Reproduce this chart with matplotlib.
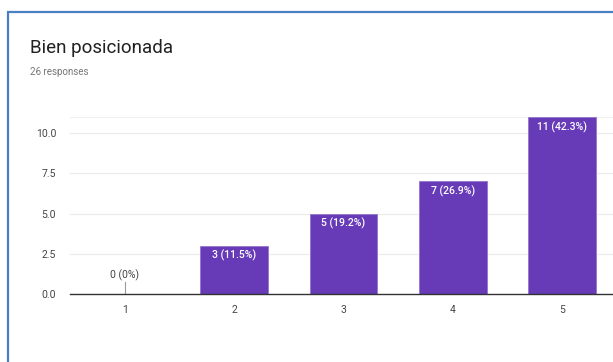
import matplotlib.pyplot as plt
import matplotlib.patches as mpatches

plt.rcParams['font.family'] = ['Roboto', 'DejaVu Sans']

title = 'Bien posicionada'
subtitle = '26 responses'
categories = ['1', '2', '3', '4', '5']
counts = [0, 3, 5, 7, 11]
pct_labels = ['0%', '11.5%', '19.2%', '26.9%', '42.3%']
yticks = [0.0, 2.5, 5.0, 7.5, 10.0]

bar_color = '#673ab7'

fig = plt.figure(figsize=(6.13, 3.62), dpi=100)

# card border (blue)
fig.patches.append(mpatches.Rectangle((8 / 613, -0.1), 1.2, 1 - 12 / 362 + 0.1,
                                      transform=fig.transFigure, fill=False,
                                      edgecolor='#4a7fc1', linewidth=1.6))

fig.text(30 / 613, 1 - 48 / 362, title, fontsize=13.5, color='#212121', va='center')
fig.text(30 / 613, 1 - 72 / 362, subtitle, fontsize=7, color='#757575', va='center')

ax = fig.add_axes([70 / 613, 1 - 294 / 362, 547 / 613, 177 / 362])
x = list(range(len(categories)))
ax.bar(x, counts, width=0.62, color=bar_color, edgecolor='#9575cd', linewidth=0.6, zorder=3)

for xi, c, p in zip(x, counts, pct_labels):
    lab = f'{c} ({p})'
    if c > 0:
        ax.annotate(lab, (xi, c), xytext=(0, -3), textcoords='offset points',
                    ha='center', va='top', color='white', fontsize=7.5,
                    fontweight='medium', zorder=4)
    else:
        ax.plot([xi, xi], [0, 0.75], color='#999999', linewidth=0.8, zorder=4)
        ax.annotate(lab, (xi, 0.75), xytext=(0, 1), textcoords='offset points',
                    ha='center', va='bottom', color='#444444', fontsize=7.5, zorder=4)

ax.set_xlim(-0.5, 4.5)
ax.set_ylim(0, 11)
ax.set_xticks(x)
ax.set_xticklabels(categories)
ax.set_yticks(yticks)
ax.set_yticklabels([f'{v:.1f}' for v in yticks])
ax.tick_params(length=0, labelsize=7.5, colors='#444444', pad=8)
ax.tick_params(axis='y', pad=10)
ax.grid(axis='y', color='#ebebeb', linewidth=0.8, zorder=0)
for s in ['left', 'right']:
    ax.spines[s].set_visible(False)
ax.spines['top'].set_color('#f0f0f0')
ax.spines['bottom'].set_color('#333333')
ax.spines['bottom'].set_linewidth(1.0)
ax.spines['bottom'].set_zorder(5)

fig.savefig('out.png', dpi=100)
